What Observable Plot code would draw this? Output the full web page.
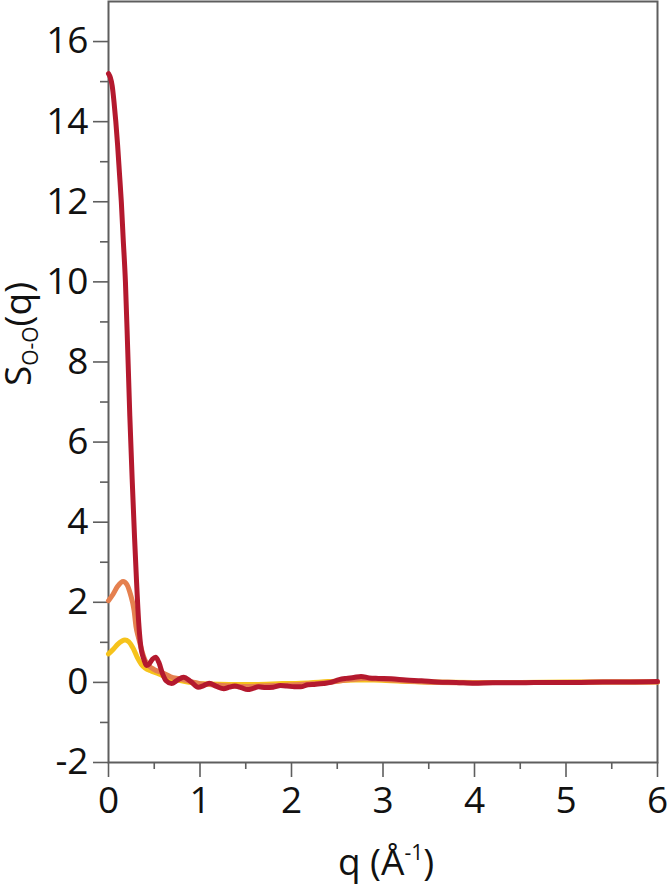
<!DOCTYPE html>
<html>
<head>
<meta charset="utf-8">
<script src="https://cdn.jsdelivr.net/npm/d3@7"></script>
<script src="https://cdn.jsdelivr.net/npm/@observablehq/plot@0.6"></script>
<style>
  html, body { margin: 0; padding: 0; background: white; }
  #chart svg { display: block; overflow: visible; }
</style>
</head>
<body>
<div id="chart"></div>
<script>
// ---- data ----
const redQ = [0, 0.02, 0.04, 0.06, 0.08, 0.1, 0.12, 0.14, 0.16, 0.185, 0.21, 0.233, 0.26, 0.285, 0.307, 0.33, 0.35, 0.39, 0.415, 0.44, 0.48, 0.515, 0.55, 0.59, 0.63, 0.69, 0.75, 0.82, 0.9, 0.98, 1.04, 1.1, 1.18, 1.26, 1.32, 1.38, 1.45, 1.52, 1.58, 1.64, 1.72, 1.8, 1.88, 1.95, 2.03, 2.1, 2.18, 2.25, 2.35, 2.43, 2.52, 2.6, 2.68, 2.76, 2.85, 2.95, 3.09, 3.25, 3.42, 3.6, 3.8, 4.0, 4.2, 4.5, 4.8, 5.1, 5.4, 5.7, 6.0];
const redS = [15.2, 15.1, 14.9, 14.5, 14.0, 13.4, 12.7, 12.0, 11.1, 10.0, 8.3, 6.65, 5.0, 3.6, 2.5, 1.5, 0.96, 0.55, 0.42, 0.45, 0.58, 0.63, 0.5, 0.22, 0.04, -0.03, 0.05, 0.13, 0.02, -0.12, -0.08, -0.02, -0.1, -0.16, -0.12, -0.09, -0.13, -0.18, -0.15, -0.11, -0.13, -0.12, -0.08, -0.09, -0.11, -0.11, -0.06, -0.05, -0.03, 0.0, 0.07, 0.1, 0.12, 0.15, 0.11, 0.1, 0.09, 0.06, 0.04, 0.01, 0.0, -0.02, -0.01, -0.01, 0.0, 0.0, 0.01, 0.01, 0.02];

const orangeQ = [0, 0.05, 0.1, 0.16, 0.2, 0.24, 0.28, 0.3, 0.33, 0.37, 0.4, 0.44, 0.5, 0.59, 0.68, 0.77, 0.9, 1.0, 1.2, 1.5, 1.8, 2.1, 2.4, 2.6, 2.8, 3.0, 3.3, 3.6, 4.0, 4.5, 5.0, 5.5, 6.0];
const orangeS = [2.04, 2.2, 2.4, 2.52, 2.45, 2.2, 1.79, 1.4, 1.1, 0.75, 0.55, 0.42, 0.32, 0.24, 0.14, 0.09, 0.02, -0.03, -0.07, -0.1, -0.08, -0.05, 0.0, 0.06, 0.1, 0.07, 0.03, 0.0, -0.01, 0.0, 0.0, 0.01, 0.01];

const yellowQ = [0, 0.05, 0.1, 0.18, 0.22, 0.27, 0.32, 0.36, 0.4, 0.47, 0.55, 0.65, 0.77, 0.95, 1.1, 1.32, 1.6, 1.9, 2.1, 2.4, 2.7, 2.9, 3.2, 3.5, 4.0, 4.5, 5.0, 5.5, 6.0];
const yellowS = [0.71, 0.82, 0.95, 1.06, 1.02, 0.85, 0.6, 0.45, 0.36, 0.28, 0.21, 0.12, 0.05, -0.02, -0.04, -0.05, -0.05, -0.03, -0.02, 0.02, 0.06, 0.06, 0.03, 0.01, 0.0, 0.0, 0.01, 0.01, 0.01];

const xMajor = [0, 1, 2, 3, 4, 5, 6];
const xMinor = [0.5, 1.5, 2.5, 3.5, 4.5, 5.5];
const yMajor = [-2, 0, 2, 4, 6, 8, 10, 12, 14, 16];
const yMinor = [-1, 1, 3, 5, 7, 9, 11, 13, 15];

const toRows = (qs, ss) => qs.map((q, i) => ({q, s: ss[i]}));
const yellow = toRows(yellowQ, yellowS);
const orange = toRows(orangeQ, orangeS);
const red = toRows(redQ, redS);

const axisGray = "#5e5e5e";
const fontSize = 37;
const fmt = d => String(d);

const chart = Plot.plot({
  width: 667,
  height: 884,
  marginLeft: 108,
  marginRight: 10,
  marginTop: 1,
  marginBottom: 122,
  x: {domain: [0, 6]},
  y: {domain: [-2, 17]},
  style: {fontFamily: "'Open Sans', sans-serif", fontSize: fontSize + "px", color: "#111", background: "white"},
  marks: [
    Plot.axisY(yMajor, {tickSize: 15, tickPadding: 5, tickFormat: fmt, label: null, stroke: axisGray, fill: "#111", strokeWidth: 1.6, fontSize: fontSize}),
    Plot.axisY(yMinor, {tickSize: 8, text: null, label: null, stroke: axisGray, strokeWidth: 1.6}),
    Plot.axisX(xMajor, {tickSize: 15, tickPadding: 9, tickFormat: fmt, label: null, stroke: axisGray, fill: "#111", strokeWidth: 1.6, fontSize: fontSize}),
    Plot.axisX(xMinor, {tickSize: 7, text: null, label: null, stroke: axisGray, strokeWidth: 1.6}),
    Plot.frame({stroke: axisGray, strokeWidth: 2}),
    Plot.line(yellow, {x: "q", y: "s", stroke: "#F6C31C", strokeWidth: 5, curve: "monotone-x"}),
    Plot.line(orange, {x: "q", y: "s", stroke: "#E5804F", strokeWidth: 5, curve: "monotone-x"}),
    Plot.line(red, {x: "q", y: "s", stroke: "#B4192E", strokeWidth: 5, curve: "monotone-x"})
  ]
});

document.getElementById("chart").appendChild(chart);

const svg = d3.select(chart);
// y-axis label: S_{O-O}(q)
const yl = svg.append("text")
  .attr("transform", "translate(31,334) rotate(-90)")
  .attr("text-anchor", "middle")
  .attr("font-family", "'Open Sans', sans-serif")
  .attr("font-size", fontSize)
  .attr("fill", "#111");
yl.append("tspan").text("S");
yl.append("tspan").attr("font-size", 21).attr("dy", 7).text("O-O");
yl.append("tspan").attr("dy", -7).text("(q)");

// x-axis label: q (Å^-1)
const xl = svg.append("text")
  .attr("x", 386)
  .attr("y", 875)
  .attr("text-anchor", "middle")
  .attr("font-family", "'Open Sans', sans-serif")
  .attr("font-size", fontSize)
  .attr("fill", "#111");
xl.append("tspan").text("q (Å");
xl.append("tspan").attr("font-size", 21).attr("dy", -15).text("-1");
xl.append("tspan").attr("dy", 15).text(")");
</script>
</body>
</html>
